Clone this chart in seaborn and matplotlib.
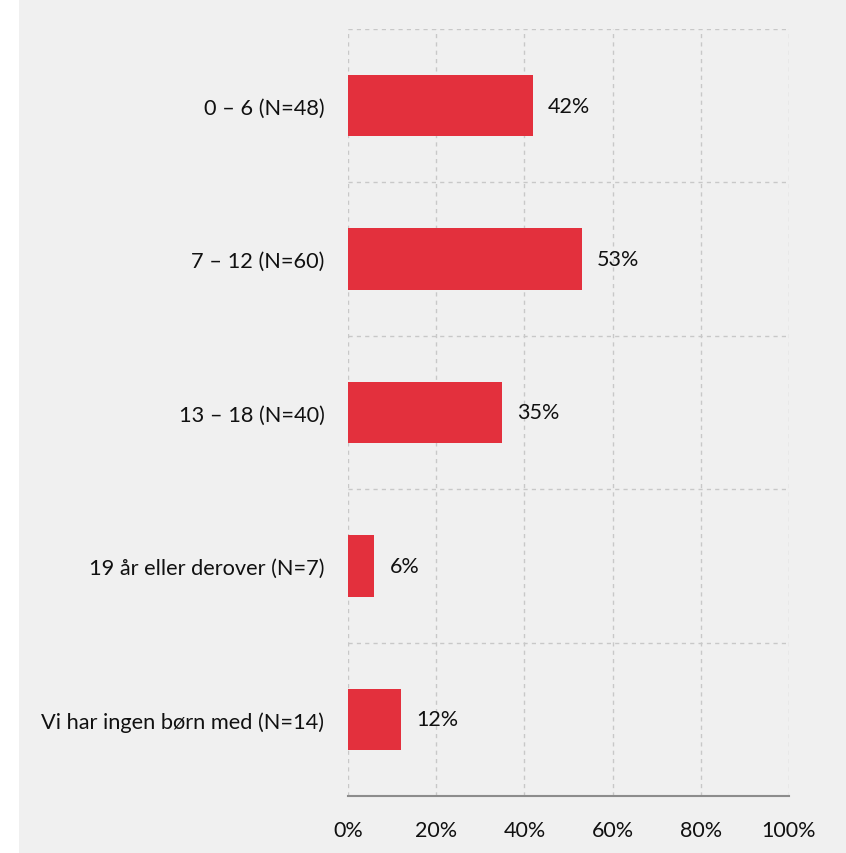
import pandas as pd
import numpy as np
import matplotlib.pyplot as plt
import seaborn as sns
from matplotlib.patches import Rectangle

# Data
categories = ["0 – 6 (N=48)", "7 – 12 (N=60)", "13 – 18 (N=40)",
              "19 år eller derover (N=7)", "Vi har ingen børn med (N=14)"]
values = [42, 53, 35, 6, 12]
tick_values = [0, 20, 40, 60, 80, 100]
tick_labels = ["0%", "20%", "40%", "60%", "80%", "100%"]

data = pd.DataFrame({"category": categories, "value": values})

sns.set_style("white")
plt.rcParams['font.family'] = ['Lato', 'DejaVu Sans']

fig = plt.figure(figsize=(8.46, 8.54), dpi=100)
fig.patch.set_facecolor("white")
# light gray panel behind the chart
fig.add_artist(Rectangle((19 / 846, 0), 1 - 19 / 846, 853 / 854,
                         transform=fig.transFigure, facecolor="#f0f0f0",
                         edgecolor="none", zorder=-10))

ax = fig.add_axes([348 / 846, 1 - 797 / 854, (789 - 348) / 846, (797 - 30) / 854])
ax.set_facecolor("none")
ax.set_zorder(1)

sns.barplot(data=data, x="value", y="category", color="#e3303d",
            width=0.4, saturation=1, linewidth=0, ax=ax, zorder=3)

ax.set_xlim(0, 100)
ax.set_ylim(len(categories) - 0.5, -0.5)
ax.set_xticks(tick_values)
ax.set_xticklabels(tick_labels, fontsize=15.5, color="#111111")
ax.tick_params(axis="y", labelsize=15.7, labelcolor="#111111", length=0, pad=17)
ax.tick_params(axis="x", length=6, width=1.5, color="#8c8c8c", pad=11)
ax.set_xlabel("")
ax.set_ylabel("")

# dashed grid
for v in tick_values:
    ax.axvline(v, color="#c8c8c8", linestyle=(0, (3, 3)), linewidth=1, zorder=1)
for b in np.arange(-0.5, len(categories) - 0.5, 1):
    ax.axhline(b, color="#c8c8c8", linestyle=(0, (3, 3)), linewidth=1, zorder=1)

for side in ["top", "right", "left"]:
    ax.spines[side].set_visible(False)
ax.spines["bottom"].set_color("#8c8c8c")
ax.spines["bottom"].set_linewidth(1.5)

# value labels
for i, v in enumerate(values):
    ax.text(v + 3.4, i, f"{v}%", va="center", ha="left", fontsize=15.5, color="#111111")

plt.savefig("out.png", dpi=100)
